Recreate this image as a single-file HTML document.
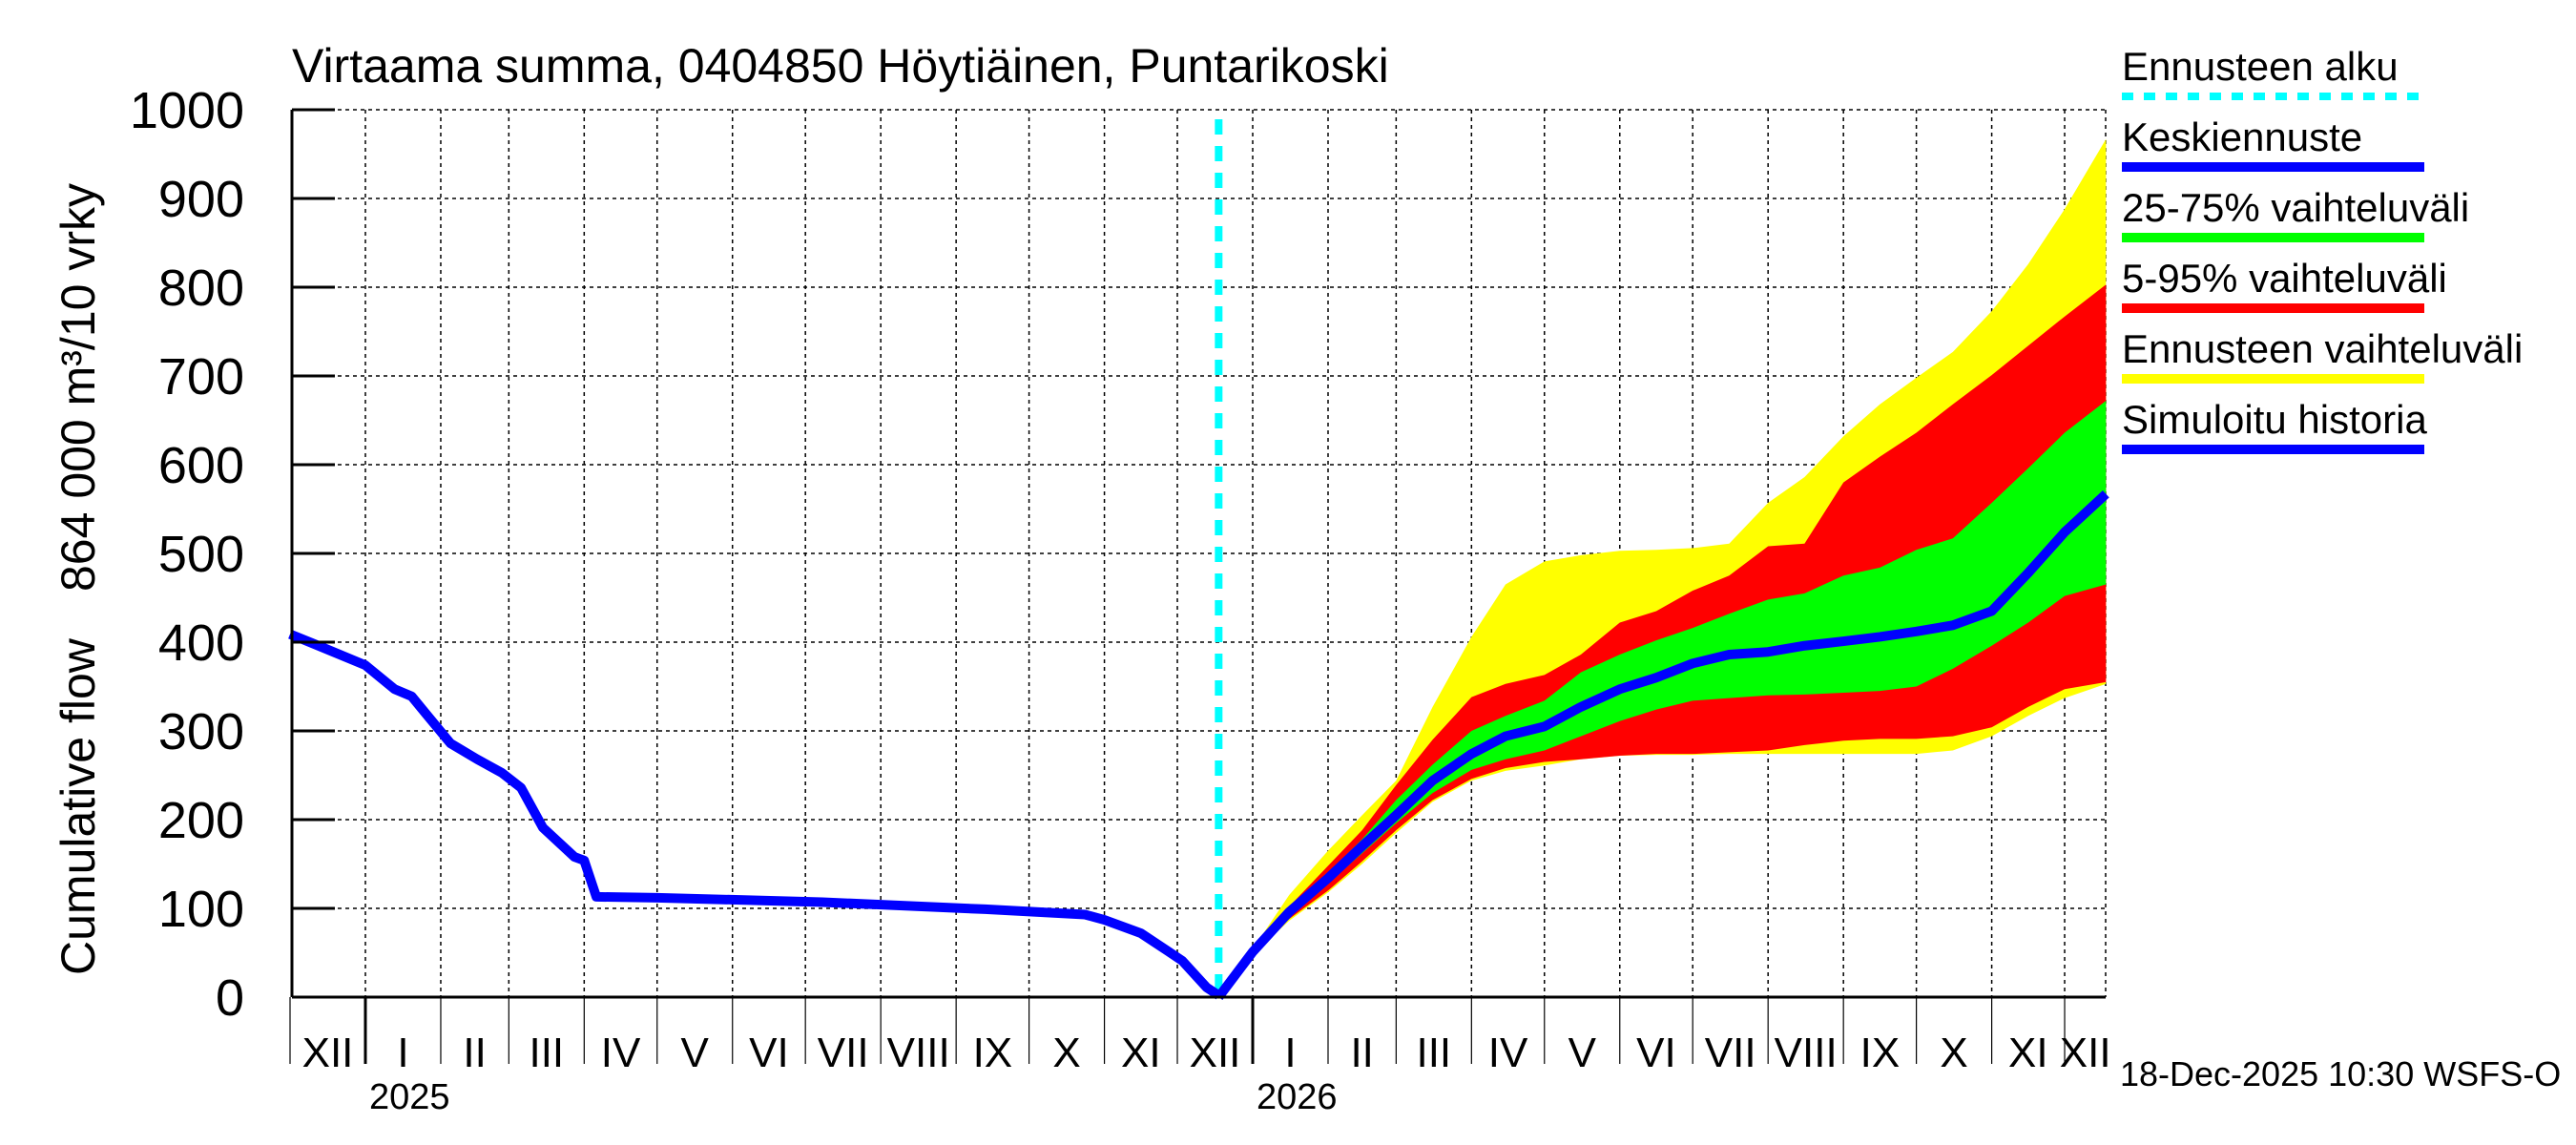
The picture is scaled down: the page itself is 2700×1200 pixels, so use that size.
<!DOCTYPE html>
<html><head><meta charset="utf-8"><style>
body{margin:0;background:#fff}
svg{display:block;font-family:"Liberation Sans",sans-serif}
</style></head><body>
<svg id="chart" width="2700" height="1200" viewBox="0 0 2700 1200" xmlns="http://www.w3.org/2000/svg">
<rect width="2700" height="1200" fill="#fff"/>
<text x="306" y="86" font-size="50">Virtaama summa, 0404850 Höytiäinen, Puntarikoski</text>
<text transform="translate(99,1022) rotate(-90)" font-size="50">Cumulative flow</text>
<text transform="translate(99,620) rotate(-90)" font-size="50">864 000 m³/10 vrky</text>
<g id="grid"></g>
<g id="bands"></g>
<g id="lines"></g>
<g id="axes"></g>
<g id="legend"></g>
<text x="2222" y="1138" font-size="36">18-Dec-2025 10:30 WSFS-O</text>
</svg>
<script>
// y ticks
const yTicks = [0,100,200,300,400,500,600,700,800,900,1000];
// history: day offset from 1 Dec 2024, value
const histDays = [0,9,31,43,50,56,66,77,87,95,104,117,121,126,151,219,286,327,335,350,361,367,377,382];
const histVals = [409,399,374,347,339,319,286,268,253,236,191,158,154,113,112,107,99,93,87,72,52,41,11,2];
// forecast
const fcDays   = [382,396,411,427,441,455,470,486,500,516,531,547,562,577,592,608,623,639,654,669,684,700,715,730,747];
const median   = [0,51,96,134,170,205,244,274,294,305,327,347,360,376,386,389,396,401,406,412,419,435,478,524,567];
const yellowHi = [0,54,115,165,205,244,327,406,465,491,498,503,504,506,511,557,586,632,668,698,727,773,826,888,967];
const redHi    = [0,56,102,148,188,239,290,338,353,363,386,422,435,458,475,508,511,580,609,636,668,701,734,767,803];
const greenHi  = [0,53,98,140,178,222,262,300,317,334,366,386,402,416,432,448,455,475,484,504,517,557,596,636,672];
const greenLo  = [0,50,93,128,162,196,230,256,268,278,294,311,324,334,337,340,341,343,345,350,370,396,422,452,465];
const redLo    = [0,49,88,120,153,188,222,246,258,265,268,272,274,274,276,278,284,289,291,291,294,304,327,347,355];
const yellowLo = [0,48,86,118,150,185,220,244,255,261,268,272,273,273,274,274,274,274,274,274,278,294,317,337,353];
const forecastStartDay = 382;
const monthNames = ["I","II","III","IV","V","VI","VII","VIII","IX","X","XI","XII"];

const NS="http://www.w3.org/2000/svg";
const L=306,R=2207,T=115,B=1045,pxDay=2.548,X0=304;
const x=d=>X0+d*pxDay;
const y=v=>B-(v/1000)*(B-T);
function mk(tag,parent,attrs){const e=document.createElementNS(NS,tag);for(const k in attrs)e.setAttribute(k,attrs[k]);document.getElementById(parent).appendChild(e);return e;}
const start=Date.UTC(2024,11,1);
const dayOf=(yr,m)=>(Date.UTC(yr,m,1)-start)/86400000;

const months=[];
for(let yr=2024;yr<=2027;yr++)for(let m=0;m<12;m++){const d=dayOf(yr,m);if(d>=0&&d<=760)months.push({yr,m,d});}
yTicks.forEach(v=>{const g=mk('line','grid',{x1:L,x2:R,y1:y(v),y2:y(v),stroke:'#000','stroke-width':1.5,'stroke-dasharray':'4,4'});

});
months.forEach(o=>{const xx=x(o.d);if(xx<=L+2||xx>R)return;const g=mk('line','grid',{x1:xx,x2:xx,y1:T,y2:B,stroke:'#000','stroke-width':1.5,'stroke-dasharray':'4,4'});

});
const rg=mk('line','grid',{x1:R,x2:R,y1:T,y2:B,stroke:'#000','stroke-width':1.5,'stroke-dasharray':'4,4'});



function band(hi,lo,color,name){let p=fcDays.map((d,i)=>x(d)+','+y(hi[i]));for(let i=fcDays.length-1;i>=0;i--)p.push(x(fcDays[i])+','+y(lo[i]));
const e=mk('polygon','bands',{points:p.join(' '),fill:color});

}
band(yellowHi,yellowLo,'#ffff00','band-forecast-range');
band(redHi,redLo,'#ff0000','band-5-95');
band(greenHi,greenLo,'#00ff00','band-25-75');

const cy=mk('line','lines',{x1:x(forecastStartDay),x2:x(forecastStartDay),y1:T+10,y2:B,stroke:'#00ffff','stroke-width':8,'stroke-dasharray':'16,12'});


const h=mk('polyline','lines',{points:histDays.map((d,i)=>x(d)+','+y(histVals[i])).join(' '),fill:'none',stroke:'#0000ff','stroke-width':10,'stroke-linejoin':'round'});


const md=mk('polyline','lines',{points:fcDays.map((d,i)=>x(d)+','+y(median[i])).join(' '),fill:'none',stroke:'#0000ff','stroke-width':10,'stroke-linejoin':'round'});



const ax1=mk('line','axes',{x1:L,x2:L,y1:T,y2:B,stroke:'#000','stroke-width':3});


const ax2=mk('line','axes',{x1:L,x2:R,y1:B,y2:B,stroke:'#000','stroke-width':3});


yTicks.forEach(v=>{const t=mk('line','axes',{x1:L,x2:L+45,y1:y(v),y2:y(v),stroke:'#000','stroke-width':3});


const lb=mk('text','axes',{x:256,y:y(v)+19,'font-size':54,'text-anchor':'end'});lb.textContent=v;

});
months.forEach((o,i)=>{const xx=x(o.d);const jan=o.m===0;
const t=mk('line','axes',{x1:xx,x2:xx,y1:B,y2:1115,stroke:'#000','stroke-width':jan?3:1.2});


const nd=i+1<months.length?months[i+1].d:747;const mid=(x(o.d)+x(Math.min(nd,747)))/2;
const lb=mk('text','axes',{x:mid,y:1118,'font-size':44,'text-anchor':'middle'});lb.textContent=monthNames[o.m];


if(jan){const yl=mk('text','axes',{x:xx+4,y:1162,'font-size':38});yl.textContent=o.yr;

}});

const leg=[["Ennusteen alku","#00ffff",true],["Keskiennuste","#0000ff"],["25-75% vaihteluväli","#00ff00"],["5-95% vaihteluväli","#ff0000"],["Ennusteen vaihteluväli","#ffff00"],["Simuloitu historia","#0000ff"]];
leg.forEach((l,i)=>{const by=84+i*74;
const t=mk('text','legend',{x:2224,y:by,'font-size':42});t.textContent=l[0];


const ln=mk('line','legend',{x1:2224,x2:2541,y1:by+17,y2:by+17,stroke:l[1],'stroke-width':l[2]?8:10,'stroke-dasharray':l[2]?'12,11':'none'});

});
</script>
</body></html>
